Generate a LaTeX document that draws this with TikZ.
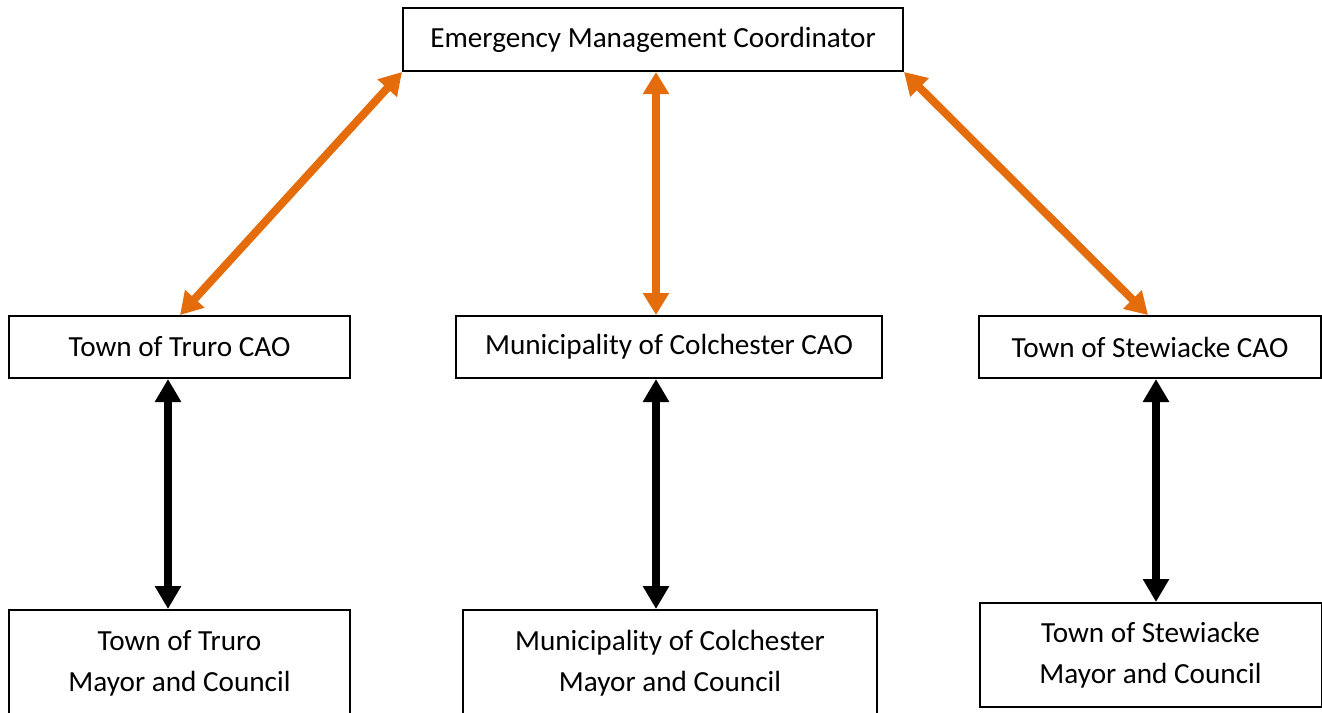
\documentclass[tikz,border=0pt]{standalone}
\usepackage{fontspec}
\setmainfont{Carlito}
\usetikzlibrary{arrows.meta,calc}
\definecolor{linkorange}{RGB}{228,108,10}

\begin{document}
\begin{tikzpicture}[x=0.5pt,y=-0.5pt,
        box/.style={draw,line width=1pt,inner sep=0pt,align=center,
          font=\fontsize{14.6}{20.5}\selectfont},
        orangelink/.style={draw=linkorange,line width=4pt,
          {Triangle[length=11pt,width=12.5pt]}-{Triangle[length=11pt,width=12.5pt]},linkorange},
        blacklink/.style={line width=4pt,
          {Triangle[length=11.5pt,width=12.5pt]}-{Triangle[length=11.5pt,width=12.5pt]}}]
        \clip (0,0) rectangle (1322,712);
        \node[box,minimum width=250pt,minimum height=31.5pt] (emc) at (653,39.5) {Emergency Management Coordinator};
        \node[box,minimum width=170.5pt,minimum height=31pt] (truroCAO) at (179.5,347) {Town of Truro CAO};
        \node[box,minimum width=213pt,minimum height=31pt] (colCAO) at (669,347) {Municipality of Colchester CAO};
        \node[box,minimum width=171pt,minimum height=31pt] (stewCAO) at (1150,347) {Town of Stewiacke CAO};
        \node[box,minimum width=170.5pt,minimum height=53pt] (truroMC) at (179.5,663) {Town of Truro\\Mayor and Council};
        \node[box,minimum width=207pt,minimum height=53pt] (colMC) at (670,663) {Municipality of Colchester\\Mayor and Council};
        \node[box,minimum width=171pt,minimum height=52pt] (stewMC) at (1150.5,655) {Town of Stewiacke\\Mayor and Council};
        % coordinator to the three CAOs
        \draw[orangelink] (emc.south west) -- ([xshift=86pt]truroCAO.north west);
        \draw[orangelink] ([xshift=1.5pt]emc.south) -- ([xshift=1.5pt]emc.south |- colCAO.north);
        \draw[orangelink] (emc.south east) -- ([xshift=85pt]stewCAO.north west);
        % CAOs to mayor and council
        \draw[blacklink] ([xshift=-5.75pt]truroCAO.south) -- ([xshift=-5.75pt]truroCAO.south |- truroMC.north);
        \draw[blacklink] ([xshift=-6.5pt]colCAO.south) -- ([xshift=-6.5pt]colCAO.south |- colMC.north);
        \draw[blacklink] ([xshift=3pt]stewCAO.south) -- ([xshift=3pt]stewCAO.south |- stewMC.north);
      \end{tikzpicture}
\end{document}
